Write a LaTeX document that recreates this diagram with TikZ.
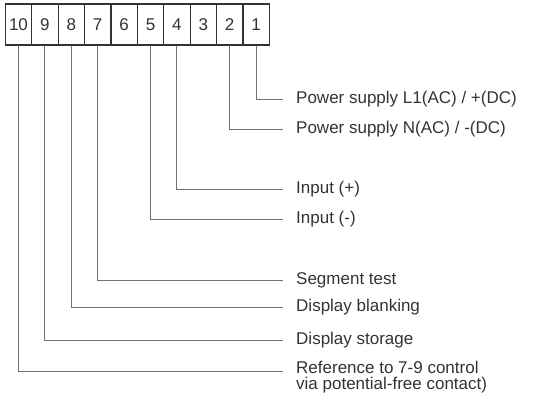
\documentclass[tikz,border=0pt]{standalone}
\usepackage{fontspec}
\setmainfont{Liberation Sans}
\definecolor{txtgray}{HTML}{333333}
\definecolor{wiregray}{HTML}{707070}
\begin{document}
\begin{tikzpicture}[
    x=1pt,y=-1pt,
    every node/.style={font=\fontsize{17}{16}\selectfont,text=txtgray},
    pinbox/.style={draw=txtgray,line width=1.2pt,minimum width=26.4pt,
        minimum height=41pt,inner sep=0pt},
    lbl/.style={anchor=west,inner xsep=13pt,inner ysep=0pt,align=left},
    wire/.style={draw=wiregray,line width=.9pt}]
    \useasboundingbox (0,0) rectangle (544,410);
    % terminal strip
    \foreach \k in {1,...,10} {
        \node[pinbox] (p\k) at ({18.5+(10-\k)*26.4},24.5) {\k};
    }
    % labels
    \node[lbl] (l1) at (283,99) {Power supply L1(AC) / +(DC)};
    \node[lbl] (l2) at (283,129) {Power supply N(AC) / -(DC)};
    \node[lbl] (l4) at (283,189) {Input (+)};
    \node[lbl] (l5) at (283,219) {Input (-)};
    \node[lbl] (l7) at (283,280) {Segment test};
    \node[lbl] (l8) at (283,307) {Display blanking};
    \node[lbl] (l9) at (283,340) {Display storage};
    \coordinate (e10) at (283,371);
    \node[lbl,anchor=north west] (l10) at ([yshift=10pt]e10)
        {Reference to 7-9 control\\via potential-free contact)};
    % wires
    \foreach \k in {1,2,4,5,7,8,9} {
        \draw[wire] (p\k.south) |- (l\k.west);
    }
    \draw[wire] (p10.south) |- (e10);
\end{tikzpicture}
\end{document}
